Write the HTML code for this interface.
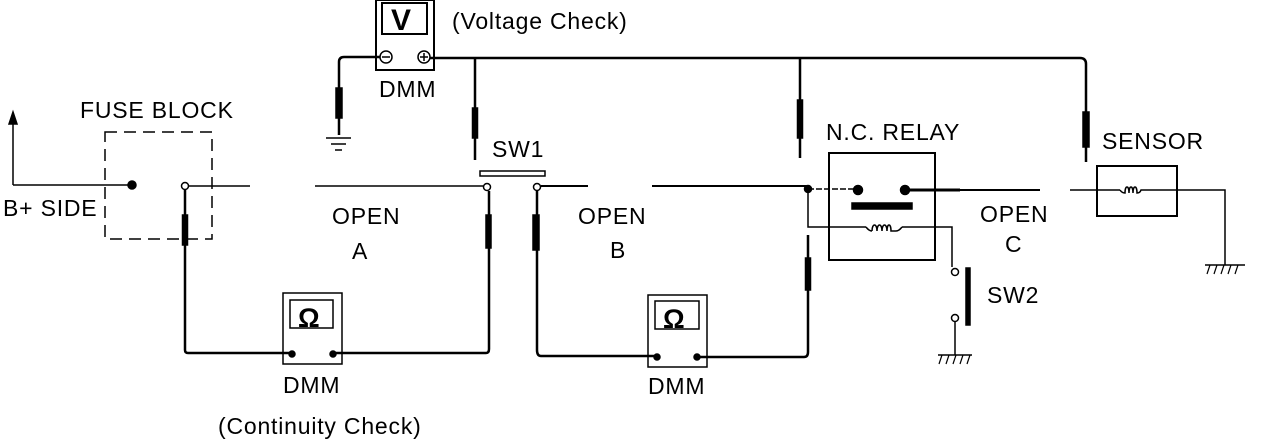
<!DOCTYPE html>
<html><head><style>body{margin:0;background:#fff}svg{display:block}text{font-family:"Liberation Sans",sans-serif;fill:#000}</style></head><body>
<svg width="1264" height="440" viewBox="0 0 1264 440" xmlns="http://www.w3.org/2000/svg">
<g stroke="#000" fill="none" stroke-width="1.5">
<path d="M13 185 V118"/><path d="M13 112 L9 124 L17 124 Z" fill="#000"/>
<path d="M13 185 H132"/>
<rect x="105" y="132" width="107" height="107" stroke-dasharray="12,7"/>
<circle cx="132" cy="185" r="4" fill="#000"/>
<path d="M189 186 H250 M315 186 H483"/>
<circle cx="185" cy="186" r="3.5" fill="#fff"/>
<path d="M185 190 V350 Q185 353 188 353 H290" stroke-width="2.5"/>
<rect x="182.5" y="215" width="5" height="30" fill="#000"/>
<rect x="283" y="293" width="59" height="71"/>
<rect x="290" y="300" width="43" height="28"/>
<circle cx="292" cy="354" r="3" fill="#000"/><circle cx="333" cy="354" r="3" fill="#000"/>
<path d="M333 353 H486 Q489 353 489 349 V191" stroke-width="2.5"/>
<rect x="486" y="215" width="5" height="33" fill="#000"/>
<rect x="480" y="171" width="65" height="5"/>
<circle cx="487" cy="187" r="3.5" fill="#fff"/><circle cx="537" cy="187" r="3.5" fill="#fff"/>
<path d="M541 186 H588 M652 186 H808" stroke-width="2"/>
<path d="M537 191 V350 Q537 356 541 356 H657" stroke-width="2.5"/>
<rect x="533" y="215" width="6" height="35" fill="#000"/>
<rect x="648" y="295" width="59" height="72"/>
<rect x="655" y="301" width="44" height="28"/>
<circle cx="657" cy="357" r="3" fill="#000"/><circle cx="697" cy="357" r="3" fill="#000"/>
<path d="M697 357 H804 Q808 357 808 352 V235" stroke-width="2.5"/>
<rect x="805.5" y="258" width="5" height="32" fill="#000"/>
<circle cx="808" cy="189" r="3.5" fill="#000"/>
<path d="M808 189 H858" stroke-dasharray="6,2"/>
<path d="M808 189 V227 H866 M902 227 H952 V267"/>
<path d="M866 227 q3 4 6 4 M896 231 q3 0 6 -4"/>
<path d="M872 231 c0 -8 5 -8 5 0 c0 -8 5 -8 5 0 c0 -8 5 -8 5 0 c0 -8 4 -8 4 0 h5"/>
<rect x="829" y="153" width="106" height="107" stroke-width="2"/>
<circle cx="858" cy="190" r="4.5" fill="#000"/><circle cx="905" cy="190" r="4.5" fill="#000"/>
<rect x="852" y="203" width="60" height="6" fill="#000"/>
<path d="M905 190 H960" stroke-width="3"/><path d="M960 190 H1040" stroke-width="2"/>
<circle cx="955" cy="272" r="3.5" fill="#fff"/><circle cx="955" cy="318" r="3.5" fill="#fff"/>
<rect x="966" y="268" width="4" height="57" fill="#000"/>
<path d="M955 322 V355 M938 355 H972"/>
<path d="M942 355 l-3 9 M949 355 l-3 9 M956 355 l-3 9 M963 355 l-3 9 M970 355 l-3 9" stroke-width="1.2"/>
<path d="M1070 190 H1120 M1150 190 H1225 V265"/>
<rect x="1097" y="166" width="80" height="50" stroke-width="2"/>
<path d="M1120 190 q2 3 5 3 c0 -8 4 -8 4 0 c0 -8 4 -8 4 0 c0 -8 4 -8 4 0 q3 0 4 -3 h9"/>
<path d="M1205 265 H1245"/>
<path d="M1210 265 l-3 9 M1217 265 l-3 9 M1224 265 l-3 9 M1231 265 l-3 9 M1238 265 l-3 9" stroke-width="1.2"/>
<rect x="376" y="0" width="58" height="70" stroke-width="2"/>
<rect x="382" y="3" width="45" height="31" stroke-width="2"/>
<circle cx="386" cy="57" r="6"/><path d="M382 57 h8"/>
<circle cx="424" cy="57" r="6"/><path d="M420 57 h8 M424 53 v8"/>
<path d="M380 57 H344 Q339 57 339 62 V135" stroke-width="2.5"/>
<rect x="336" y="88" width="6" height="30" fill="#000"/>
<path d="M326 138 H351 M331 144 H346 M335 150 H342"/>
<path d="M430 58 H1080 Q1086 58 1086 64 V162" stroke-width="2.5"/>
<path d="M475 58 V160 M800 58 V158" stroke-width="2.5"/>
<rect x="472.5" y="108" width="5" height="30" fill="#000"/>
<rect x="797.5" y="100" width="5" height="38" fill="#000"/>
<rect x="1083" y="112" width="6" height="35" fill="#000"/>
</g>
<g font-size="23" letter-spacing="0.8">
<text x="391" y="30" font-size="30" font-weight="bold" letter-spacing="0">V</text>
<text x="298" y="327" font-size="27" font-weight="bold" letter-spacing="0">Ω</text>
<text x="663" y="328" font-size="27" font-weight="bold" letter-spacing="0">Ω</text>
<text x="452" y="29">(Voltage Check)</text>
<text x="379" y="97">DMM</text>
<text x="80" y="118">FUSE BLOCK</text>
<text x="3" y="216">B+ SIDE</text>
<text x="492" y="157">SW1</text>
<text x="332" y="224">OPEN</text>
<text x="352" y="259">A</text>
<text x="578" y="224">OPEN</text>
<text x="610" y="258">B</text>
<text x="826" y="140">N.C. RELAY</text>
<text x="1102" y="149">SENSOR</text>
<text x="980" y="222">OPEN</text>
<text x="1005" y="252">C</text>
<text x="987" y="303">SW2</text>
<text x="283" y="393">DMM</text>
<text x="218" y="434">(Continuity Check)</text>
<text x="648" y="394">DMM</text>
</g>
</svg>
</body></html>
